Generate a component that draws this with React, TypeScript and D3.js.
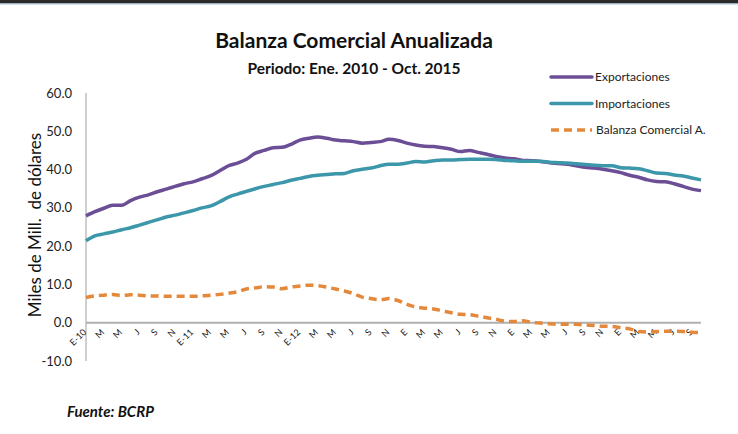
import React from "react";
import * as d3 from "d3";

const months: string[] = [];
const startYear = 2010;
for (let i = 0; i < 70; i++) {
  const y = startYear + Math.floor(i / 12);
  const m = i % 12;
  months.push(`${y}-${String(m + 1).padStart(2, "0")}`);
}

const tickLabels = [
  "E-10", "M", "M", "J", "S", "N",
  "E-11", "M", "M", "J", "S", "N",
  "E-12", "M", "M", "J", "S", "N",
  "E", "M", "M", "J", "S", "N",
  "E", "M", "M", "J", "S", "N",
  "E", "M", "M", "J", "S",
];

const exportaciones = [
  27.9, 29.0, 29.9, 30.7, 30.7, 31.9, 32.8, 33.4, 34.2, 34.9, 35.6, 36.3,
  36.8, 37.6, 38.4, 39.7, 41.0, 41.7, 42.7, 44.3, 45.0, 45.7, 45.8, 46.6,
  47.7, 48.2, 48.5, 48.2, 47.7, 47.5, 47.3, 46.9, 47.1, 47.3, 47.9, 47.6,
  46.9, 46.4, 46.1, 46.0, 45.7, 45.3, 44.7, 45.0, 44.5, 44.0, 43.4, 43.0,
  42.8, 42.4, 42.3, 42.1, 41.8, 41.6, 41.4, 41.0, 40.6, 40.4, 40.1, 39.7,
  39.2, 38.5, 38.0, 37.3, 36.9, 36.8, 36.3, 35.6, 34.9, 34.5,
];

const importaciones = [
  21.4, 22.7, 23.2, 23.7, 24.3, 24.8, 25.5, 26.2, 26.9, 27.6, 28.1, 28.7,
  29.3, 30.0, 30.5, 31.6, 32.8, 33.6, 34.3, 35.0, 35.6, 36.1, 36.6, 37.2,
  37.7, 38.2, 38.5, 38.7, 38.9, 39.0, 39.7, 40.1, 40.4, 41.0, 41.4, 41.4,
  41.7, 42.1, 42.0, 42.3, 42.5, 42.5, 42.6, 42.7, 42.7, 42.7, 42.6, 42.4,
  42.3, 42.2, 42.2, 42.2, 41.9, 41.8, 41.7, 41.5, 41.3, 41.1, 41.0, 41.0,
  40.5, 40.4, 40.2, 39.7, 39.1, 39.0, 38.6, 38.3, 37.8, 37.3,
];

const balanza = [
  6.6, 7.0, 7.2, 7.4, 7.1, 7.3, 7.2, 7.0, 7.0, 6.9, 6.9, 6.9,
  6.9, 7.0, 7.2, 7.4, 7.7, 8.1, 8.8, 9.1, 9.4, 9.3, 8.9, 9.3,
  9.6, 9.8, 9.7, 9.3, 8.8, 8.3, 7.6, 6.7, 6.3, 6.0, 6.3, 5.8,
  4.8, 4.1, 3.8, 3.6, 3.1, 2.6, 2.2, 2.1, 1.7, 1.3, 0.9, 0.4,
  0.3, 0.5, 0.1, -0.1, -0.3, -0.4, -0.4, -0.4, -0.6, -0.7, -0.9, -1.0,
  -1.3, -1.6, -2.3, -2.4, -2.3, -2.2, -2.2, -2.3, -2.5, -2.6,
];

const yTicks = [-10, 0, 10, 20, 30, 40, 50, 60];

const seriesNames = ["Exportaciones", "Importaciones", "Balanza Comercial A."];
const seriesColors = ["#6b4e96", "#3d97ab", "#e4883c"];

const W = 738;
const H = 434;
const FONT = "Lato, 'Open Sans', sans-serif";

export default function App() {
  const x = d3.scaleLinear().domain([0, months.length - 1]).range([86, 701]);
  const y = d3.scaleLinear().domain([-10, 60]).range([361, 93]);

  const line = d3
    .line<number>()
    .x((_, i) => x(i))
    .y((d) => y(d))
    .curve(d3.curveMonotoneX);

  const series = [exportaciones, importaciones, balanza];

  return (
    <svg
      width={W}
      height={H}
      style={{ position: "absolute", left: 0, top: 0, background: "#fff" }}
      fontFamily={FONT}
    >
      <rect x={0} y={0} width={W} height={3.5} fill="#2a2a2a" />
      <rect x={0} y={3.5} width={W} height={1} fill="#a9c6e0" />

      <text x={354} y={48} textAnchor="middle" fontSize={21} fontWeight="bold" fill="#111">
        Balanza Comercial Anualizada
      </text>
      <text x={354} y={74} textAnchor="middle" fontSize={15.5} fontWeight="bold" fill="#111">
        Periodo: Ene. 2010 - Oct. 2015
      </text>

      {/* y axis */}
      <line x1={86} x2={86} y1={y(60)} y2={y(-10)} stroke="#a0a0a0" strokeWidth={1} />
      {yTicks.map((t) => (
        <text key={t} x={72} y={y(t)} dy="0.35em" textAnchor="end" fontSize={13} fill="#222">
          {t.toFixed(1)}
        </text>
      ))}
      <text
        transform={`translate(41,${225}) rotate(-90)`}
        textAnchor="middle"
        fontSize={17}
        fill="#111"
        style={{ whiteSpace: "pre" }}
      >
        Miles de Mill.  de dólares
      </text>

      {/* zero axis */}
      <line x1={86} x2={701} y1={y(0)} y2={y(0)} stroke="#b0b0b0" strokeWidth={2} />

      {tickLabels.map((lab, k) => {
        const xi = x(k * 2);
        return (
          <text
            key={k}
            transform={`translate(${xi + 1},${y(0) + 10}) rotate(-45)`}
            textAnchor="end"
            fontSize={9}
            fill="#222"
          >
            {lab}
          </text>
        );
      })}

      {series.map((s, k) => (
        <path
          key={k}
          d={line(s) || ""}
          fill="none"
          stroke={seriesColors[k]}
          strokeWidth={3.5}
          strokeDasharray={k === 2 ? "8,5" : undefined}
          strokeLinejoin="round"
        />
      ))}

      {/* legend */}
      {seriesNames.map((n, k) => {
        const ly = 77 + k * 26.5;
        return (
          <g key={n}>
            <line
              x1={551}
              x2={592}
              y1={ly}
              y2={ly}
              stroke={seriesColors[k]}
              strokeWidth={3.5}
              strokeDasharray={k === 2 ? "8,5" : undefined}
              strokeLinecap={k === 2 ? "butt" : "round"}
            />
            <text x={k === 2 ? 596 : 595} y={ly} dy="0.35em" fontSize={12} fill="#222">
              {n}
            </text>
          </g>
        );
      })}

      <text x={67} y={417} fontSize={15} fontWeight="bold" fontStyle="italic" fill="#111">
        Fuente: BCRP
      </text>
    </svg>
  );
}
